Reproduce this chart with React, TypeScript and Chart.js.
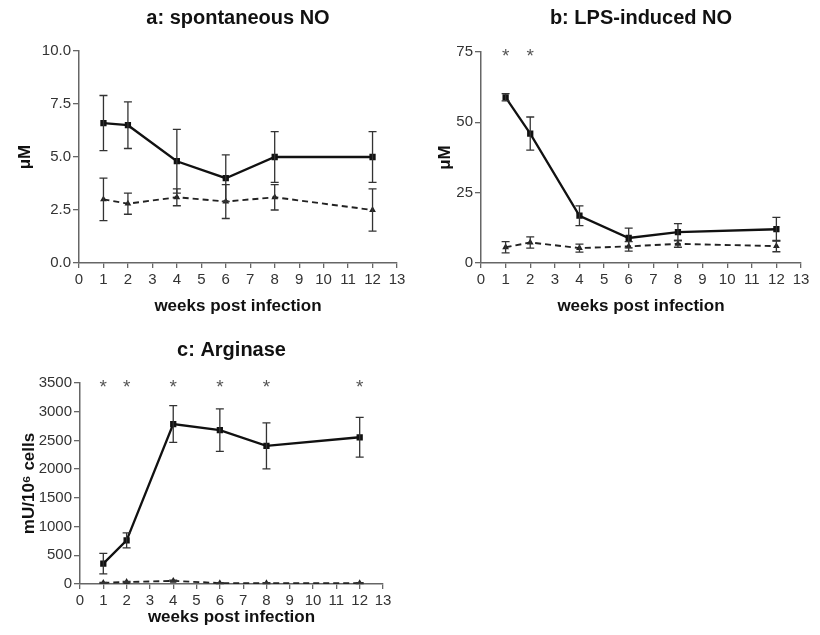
import React, { useEffect, useRef } from "react";
import { Chart, registerables } from "chart.js";

Chart.register(...registerables);

const weeks = [1, 2, 4, 6, 8, 12];

// a: spontaneous NO
const aSolid = [6.6, 6.5, 4.8, 4.0, 5.0, 5.0];
const aSolidErr = [1.3, 1.1, 1.5, 1.1, 1.2, 1.2];
const aDashed = [3.0, 2.8, 3.1, 2.9, 3.1, 2.5];
const aDashedErr = [1.0, 0.5, 0.4, 0.8, 0.6, 1.0];

// b: LPS-induced NO
const bSolid = [58.9, 46.0, 16.8, 8.9, 11.0, 12.0];
const bSolidErr = [1.3, 5.9, 3.5, 3.5, 3.0, 4.2];
const bDashed = [5.6, 7.3, 5.3, 5.9, 6.8, 6.0];
const bDashedErr = [2.0, 2.0, 1.4, 1.7, 1.2, 2.0];
const bStars = [1, 2];

// c: Arginase
const cSolid = [355, 760, 2785, 2680, 2405, 2555];
const cSolidErr = [180, 130, 320, 370, 400, 345];
const cDashed = [20, 35, 55, 15, 15, 15];
const cDashedErr = [10, 10, 10, 8, 8, 8];
const cStars = [1, 2, 4, 6, 8, 12];

const FONT = "'Liberation Sans', Arial, Helvetica, sans-serif";
const AXIS = "#666";
const TEXT = "#333";

const errorBarPlugin = {
  id: "errorBars",
  afterDatasetsDraw(chart: any) {
    const ctx = chart.ctx;
    const xs = chart.scales.x;
    const ys = chart.scales.y;
    chart.data.datasets.forEach((ds: any) => {
      if (!ds.errors) return;
      ctx.save();
      ctx.strokeStyle = "#333";
      ctx.lineWidth = 1.3;
      ds.data.forEach((p: any, i: number) => {
        const e = ds.errors[i];
        const px = xs.getPixelForValue(p.x);
        const top = ys.getPixelForValue(p.y + e);
        const bot = ys.getPixelForValue(Math.max(p.y - e, ys.min));
        ctx.beginPath();
        ctx.moveTo(px, top);
        ctx.lineTo(px, bot);
        ctx.moveTo(px - 4, top);
        ctx.lineTo(px + 4, top);
        if (p.y - e > ys.min) {
          ctx.moveTo(px - 4, bot);
          ctx.lineTo(px + 4, bot);
        }
        ctx.stroke();
      });
      ctx.restore();
    });
  },
};

const starPlugin = {
  id: "stars",
  afterDatasetsDraw(chart: any, _args: any, opts: any) {
    const stars: number[] = opts && opts.weeks ? opts.weeks : [];
    if (!stars.length) return;
    const ctx = chart.ctx;
    const xs = chart.scales.x;
    const ys = chart.scales.y;
    ctx.save();
    ctx.fillStyle = "#555";
    ctx.font = `19px ${FONT}`;
    ctx.textAlign = "center";
    ctx.textBaseline = "middle";
    stars.forEach((w) => {
      ctx.fillText("*", xs.getPixelForValue(w), ys.getPixelForValue(ys.max) + 5);
    });
    ctx.restore();
  },
};

type PanelCfg = {
  title: string;
  yTitle: string;
  solid: number[];
  solidErr: number[];
  dashed: number[];
  dashedErr: number[];
  yMax: number;
  yStep: number;
  decimals: number;
  stars: number[];
  pad: { left: number; right: number; top: number; bottom: number };
  yWidth: number;
  xHeight: number;
  titlePad: { top: number; bottom: number };
  yTitlePad: number;
  xTitlePad: number;
};

function Panel({ cfg, style }: { cfg: PanelCfg; style: React.CSSProperties }) {
  const ref = useRef<HTMLCanvasElement>(null);
  useEffect(() => {
    if (!ref.current) return;
    const toPts = (arr: number[]) => arr.map((v, i) => ({ x: weeks[i], y: v }));
    const chart = new Chart(ref.current, {
      type: "scatter",
      data: {
        datasets: [
          {
            data: toPts(cfg.solid),
            errors: cfg.solidErr,
            showLine: true,
            borderColor: "#111",
            backgroundColor: "#111",
            borderWidth: 2.3,
            pointRadius: 2.8,
            pointStyle: "rect",
          } as any,
          {
            data: toPts(cfg.dashed),
            errors: cfg.dashedErr,
            showLine: true,
            borderColor: "#222",
            backgroundColor: "#222",
            borderWidth: 1.9,
            borderDash: [6, 4],
            pointRadius: 2,
            pointStyle: "triangle",
          } as any,
        ],
      },
      options: {
        animation: false,
        responsive: false,
        layout: { padding: cfg.pad },
        plugins: {
          legend: { display: false },
          tooltip: { enabled: false },
          title: {
            display: true,
            text: cfg.title,
            fullSize: false,
            color: "#111",
            font: { family: FONT, size: 20, weight: "bold" },
            padding: cfg.titlePad,
          },
          stars: { weeks: cfg.stars },
        } as any,
        scales: {
          x: {
            type: "linear",
            min: 0,
            max: 13,
            afterFit(s: any) {
              s.height = cfg.xHeight;
              s.paddingLeft = 0;
              s.paddingRight = 0;
            },
            ticks: {
              stepSize: 1,
              color: TEXT,
              padding: 3,
              font: { family: FONT, size: 15 },
            },
            grid: {
              display: true,
              drawOnChartArea: false,
              drawTicks: true,
              tickLength: 5,
              color: AXIS,
              lineWidth: 1.3,
            },
            border: { display: true, color: AXIS, width: 1.5 },
            title: {
              display: true,
              text: "weeks post infection",
              color: "#111",
              font: { family: FONT, size: 17, weight: "bold" },
              padding: { top: 0, bottom: cfg.xTitlePad },
            },
          },
          y: {
            type: "linear",
            min: 0,
            max: cfg.yMax,
            afterFit(s: any) {
              s.width = cfg.yWidth;
              s.paddingTop = 0;
              s.paddingBottom = 0;
            },
            ticks: {
              stepSize: cfg.yStep,
              color: TEXT,
              padding: 2,
              font: { family: FONT, size: 15 },
              callback: (v: any) => Number(v).toFixed(cfg.decimals),
            },
            grid: {
              display: true,
              drawOnChartArea: false,
              drawTicks: true,
              tickLength: 6,
              color: AXIS,
              lineWidth: 1.3,
            },
            border: { display: true, color: AXIS, width: 1.5 },
            title: {
              display: true,
              text: cfg.yTitle,
              color: "#111",
              font: { family: FONT, size: 17, weight: "bold" },
              padding: { top: cfg.yTitlePad, bottom: 0 },
            },
          },
        },
      } as any,
      plugins: [errorBarPlugin, starPlugin],
    });
    return () => chart.destroy();
  }, [cfg]);
  return (
    <canvas
      ref={ref}
      width={style.width as number}
      height={style.height as number}
      style={{ position: "absolute", ...style }}
    />
  );
}

const panelA: PanelCfg = {
  title: "a: spontaneous NO",
  yTitle: "μM",
  solid: aSolid,
  solidErr: aSolidErr,
  dashed: aDashed,
  dashedErr: aDashedErr,
  yMax: 10,
  yStep: 2.5,
  decimals: 1,
  stars: [],
  pad: { left: 5, right: 13, top: 0, bottom: 0 },
  yWidth: 74,
  xHeight: 57,
  titlePad: { top: 6, bottom: 21 },
  yTitlePad: 10,
  xTitlePad: 3,
};

const panelB: PanelCfg = {
  title: "b: LPS-induced NO",
  yTitle: "μM",
  solid: bSolid,
  solidErr: bSolidErr,
  dashed: bDashed,
  dashedErr: bDashedErr,
  yMax: 75,
  yStep: 25,
  decimals: 0,
  stars: bStars,
  pad: { left: 5, right: 19, top: 0, bottom: 0 },
  yWidth: 66,
  xHeight: 57,
  titlePad: { top: 6, bottom: 22 },
  yTitlePad: 20,
  xTitlePad: 3,
};

const panelC: PanelCfg = {
  title: "c: Arginase",
  yTitle: "mU/10⁶ cells",
  solid: cSolid,
  solidErr: cSolidErr,
  dashed: cDashed,
  dashedErr: cDashedErr,
  yMax: 3500,
  yStep: 500,
  decimals: 0,
  stars: cStars,
  pad: { left: 5, right: 27, top: 0, bottom: 0 },
  yWidth: 75,
  xHeight: 51,
  titlePad: { top: 18, bottom: 21 },
  yTitlePad: 14,
  xTitlePad: 7,
};

export default function App() {
  return (
    <div
      style={{
        position: "absolute",
        left: 0,
        top: 0,
        width: 820,
        height: 635,
        background: "#fff",
      }}
    >
      <Panel cfg={panelA} style={{ left: 0, top: 0, width: 410, height: 320 }} />
      <Panel cfg={panelB} style={{ left: 410, top: 0, width: 410, height: 320 }} />
      <Panel cfg={panelC} style={{ left: 0, top: 320, width: 410, height: 315 }} />
    </div>
  );
}
